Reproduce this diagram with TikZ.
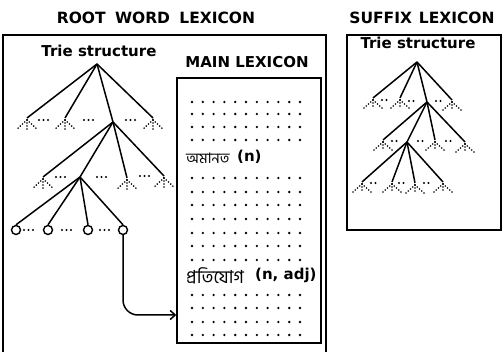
\documentclass[tikz,border=0pt]{standalone}
\usepackage{fontspec}
\setmainfont{DejaVu Sans}
\newfontfamily\bnfont[Script=Bengali]{Hind Siliguri}
\usetikzlibrary{arrows.meta}
\tikzset{
  box/.style={draw, line width=1.4pt},
  edge/.style={line width=1.5pt},
  fandot/.style={line width=1.8pt, dash pattern=on 0pt off 3pt, line cap=round},
  rowdot/.style={line width=2.2pt, dash pattern=on 0pt off 4.5pt, line cap=round},
  leaf/.style={circle, draw, line width=1.4pt, inner sep=0pt, minimum size=9pt, fill=white},
  title/.style={font=\bfseries\fontsize{15.5}{18}\selectfont},
  label/.style={font=\bfseries\fontsize{15}{18}\selectfont},
  bn/.style={font=\bnfont\fontsize{14.5}{17}\selectfont, anchor=west, inner sep=0pt},
  fan/.pic={
    \draw[fandot] (0,2) -- (-11,12);
    \draw[fandot] (0,2) -- (0,12);
    \draw[fandot] (0,2) -- (11,12);
  },
  fans/.pic={
    \draw[fandot] (0,2) -- (-9,10);
    \draw[fandot] (0,2) -- (0,10);
    \draw[fandot] (0,2) -- (9,10);
  }
}
\begin{document}
\begin{tikzpicture}[x=1pt,y=-1pt]
\useasboundingbox (0,0) rectangle (503,352);
\clip (0,0) rectangle (503,352);
% titles
\node[title] (t1) at (156,18) {ROOT\hspace{0.6em}WORD\hspace{0.6em}LEXICON};
\node[title] (t2) at (422,18) {SUFFIX\hspace{0.45em}LEXICON};
% outer boxes
\draw[box] (3,35) rectangle (326,360);
\draw[box] (347,35) rectangle (501,230);
\node[label] (ts1) at (99,51) {Trie structure};
\node[label] (ts2) at (418,43) {Trie structure};
\node[label] (ml) at (247,62) {MAIN LEXICON};
% main lexicon box
\node[box, minimum width=144pt, minimum height=265pt, inner sep=0pt] (mainlex) at (249,210.5) {};
\foreach \y in {102,114,127,140,178,192,205,219,233,246,260,295,308,322,335}{
  \foreach \i in {0,...,10}{
    \fill (192+\i*10.8,\y) circle (1.3pt);
  }
}
\node[bn] (w1) at (186,158) {অমানত};
\node[label, anchor=west, inner sep=0pt] (p1) at (237,157) {(n)};
\node[bn, font=\bnfont\fontsize{18}{20}\selectfont] (w2) at (186,276) {প্রতিযোগ};
\node[label, anchor=west, inner sep=0pt] (p2) at (255,275) {(n, adj)};
% root trie
\coordinate (r0) at (97,64);
\coordinate (a1) at (27,118);
\coordinate (a2) at (65,118);
\coordinate (a3) at (113,122);
\coordinate (a4) at (153,118);
\coordinate (b1) at (43,177);
\coordinate (b2) at (80,177);
\coordinate (b3) at (127,178);
\coordinate (b4) at (164,176);
\node[leaf] (c1) at (16,230) {};
\node[leaf] (c2) at (48,230) {};
\node[leaf] (c3) at (88,230) {};
\node[leaf] (c4) at (123,230) {};
\foreach \n in {a1,a2,a3,a4} \draw[edge] (r0) -- (\n);
\foreach \n in {b1,b2,b3,b4} \draw[edge] (a3) -- (\n);
\foreach \n in {c1,c2,c3,c4} \draw[edge] (b2) -- (\n.north);
\foreach \n in {a1,a2,a4,b1,b3,b4} \pic at (\n) {fan};
\foreach \x/\y in {39/120,84/120,126/120,56/177,97/177,140/176,24/230,62/230,100/230}
  \draw[rowdot] (\x,\y) -- ++(10,0);
% arrow
\coordinate (tip) at (mainlex.west |- 0,315);
\draw[edge, rounded corners=15pt, -{Straight Barb[length=5pt,width=9pt]}] (c4.south) |- (tip);
% suffix trie
\coordinate (s0) at (417,62);
\coordinate (s1) at (373,98);
\coordinate (s2) at (400,98);
\coordinate (s3) at (427,102);
\coordinate (s4) at (452,100);
\coordinate (u1) at (383,140);
\coordinate (u2) at (407,142);
\coordinate (u3) at (435,140);
\coordinate (u4) at (465,142);
\coordinate (v1) at (362,182);
\coordinate (v2) at (392,182);
\coordinate (v3) at (415,183);
\coordinate (v4) at (443,182);
\foreach \n in {s1,s2,s3,s4} \draw[edge] (s0) -- (\n);
\foreach \n in {u1,u2,u3,u4} \draw[edge] (s3) -- (\n);
\foreach \n in {v1,v2,v3,v4} \draw[edge] (u2) -- (\n);
\foreach \n in {s1,s2,s4,u1,u3,u4,v1,v2,v3,v4} \pic at (\n) {fans};
\foreach \x/\y in {382/100,409/101,436/101,392/141,418/141,446/141,371/183,399/183,424/183}
  \draw[rowdot] (\x,\y) -- ++(9,0);
\end{tikzpicture}
\end{document}
